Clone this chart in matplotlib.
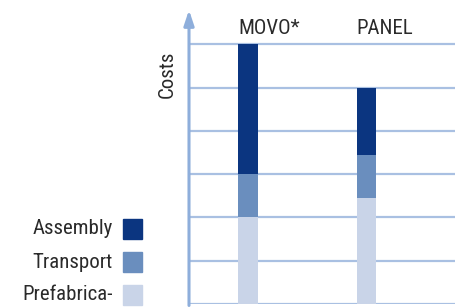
import numpy as np
import matplotlib
matplotlib.use("Agg")
import matplotlib.pyplot as plt
from matplotlib.patches import Rectangle

# data (grid units)
categories = ["MOVO*", "PANEL"]
prefab = [2.0, 2.45]
transport = [1.0, 1.0]
assembly = [3.0, 1.55]
legend_labels = ["Assembly", "Transport", "Prefabrica-"]

c_assembly = "#0b3580"
c_transport = "#6a8ebe"
c_prefab = "#c9d4e8"
c_grid = "#a9c0e2"
c_axis = "#8eaedb"

plt.rcParams['font.family'] = ['Roboto Condensed', 'DejaVu Sans']

W, H = 455, 307
fig = plt.figure(figsize=(W / 100, H / 100), dpi=100)
ax = fig.add_axes([189 / W, 3 / H, (W - 189) / W, 294 / H])

x = np.arange(len(categories))
width = 0.168
ax.bar(x, prefab, width, color=c_prefab, zorder=3)
ax.bar(x, transport, width, bottom=prefab, color=c_transport, zorder=3)
bottom2 = np.array(prefab) + np.array(transport)
ax.bar(x, assembly, width, bottom=bottom2, color=c_assembly, zorder=3)

ax.set_xlim(-0.498, 1.747)
ax.set_ylim(0, 6.79)
for v in range(0, 7):
    ax.axhline(v, color=c_grid, lw=1.6, zorder=1)

for s in ["top", "right", "bottom", "left"]:
    ax.spines[s].set_visible(False)
ax.set_xticks([])
ax.set_yticks([])

# y axis with arrow
ax.annotate("", xy=(0, 1.0), xycoords="axes fraction", xytext=(0, -0.005),
            arrowprops=dict(arrowstyle="-|>,head_length=0.9,head_width=0.3",
                            color=c_axis, lw=2.2, shrinkA=0, shrinkB=0),
            annotation_clip=False)

for xi, name in zip(x, categories):
    ax.text(xi - width / 2, 6.37, name, ha="left", va="center", fontsize=15,
            color="#2a2a2a")

ax.set_ylabel("Costs", fontsize=15, color="#2a2a2a")
ax.yaxis.set_label_coords(-0.045, 0.78)

# legend drawn on the left
leg_colors = [c_assembly, c_transport, c_prefab]
ys = [229, 262, 295]
for lab, col, yc in zip(legend_labels, leg_colors, ys):
    fig.text(113 / W, 1 - yc / H, lab, ha="right", va="center", fontsize=15,
             color="#2a2a2a")
    fig.patches.append(Rectangle((123 / W, 1 - (yc + 10) / H), 19 / W, 20 / H,
                                 transform=fig.transFigure, color=col,
                                 figure=fig))

fig.savefig("out.png", dpi=100)
